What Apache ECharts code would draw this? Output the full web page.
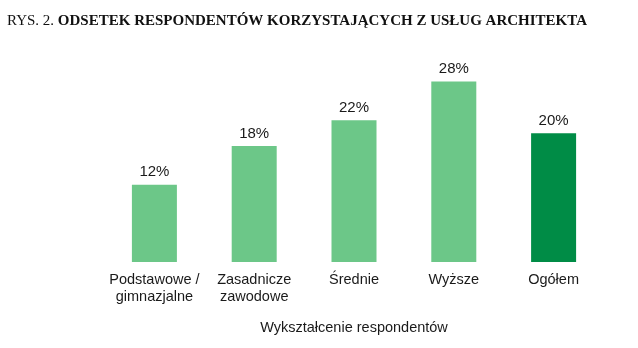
<!DOCTYPE html>
<html>
<head>
<meta charset="utf-8">
<script src="https://cdn.jsdelivr.net/npm/echarts@6/dist/echarts.min.js"></script>
<style>
html,body{margin:0;padding:0;background:#fff;}
#c{width:638px;height:348px;}
</style>
</head>
<body>
<div id="c"></div>
<script>
const categories = ['Podstawowe /\ngimnazjalne', 'Zasadnicze\nzawodowe', 'Średnie', 'Wyższe', 'Ogółem'];
const values = [12, 18, 22, 28, 20];
const titlePrefix = 'RYS. 2. ';
const titleMain = 'ODSETEK RESPONDENTÓW KORZYSTAJĄCYCH Z USŁUG ARCHITEKTA';
const axisName = 'Wykształcenie respondentów';

const lightGreen = '#6cc788';
const darkGreen = '#008c46';

const chart = echarts.init(document.getElementById('c'), null, {renderer: 'canvas'});
chart.setOption({
  animation: false,
  backgroundColor: '#ffffff',
  title: {
    text: '{a|' + titlePrefix + '}{b|' + titleMain + '}',
    left: 2,
    top: 9,
    textStyle: {
      rich: {
        a: {fontFamily: 'Liberation Serif', fontSize: 15, fontWeight: 'normal', color: '#111'},
        b: {fontFamily: 'Liberation Serif', fontSize: 15, fontWeight: 'bold', color: '#111'}
      }
    }
  },
  grid: {left: 104.5, right: 34.5, top: 68.7, bottom: 86, containLabel: false},
  xAxis: {
    type: 'category',
    data: categories,
    axisLine: {show: false},
    axisTick: {show: false},
    axisLabel: {
      interval: 0,
      margin: 9,
      fontFamily: 'Liberation Sans',
      fontSize: 14.5,
      lineHeight: 17,
      color: '#1a1a1a'
    },
    name: axisName,
    nameLocation: 'middle',
    nameGap: 58,
    nameTextStyle: {fontFamily: 'Liberation Sans', fontSize: 14.5, color: '#1a1a1a'}
  },
  yAxis: {
    type: 'value',
    min: 0,
    max: 30,
    show: false
  },
  series: [{
    type: 'bar',
    barWidth: 45,
    data: values.map((v, i) => ({
      value: v,
      itemStyle: {color: i === values.length - 1 ? darkGreen : lightGreen}
    })),
    label: {
      show: true,
      position: 'top',
      distance: 5,
      formatter: '{c}%',
      fontFamily: 'Liberation Sans',
      fontSize: 15,
      color: '#1a1a1a'
    }
  }]
});
</script>
</body>
</html>
